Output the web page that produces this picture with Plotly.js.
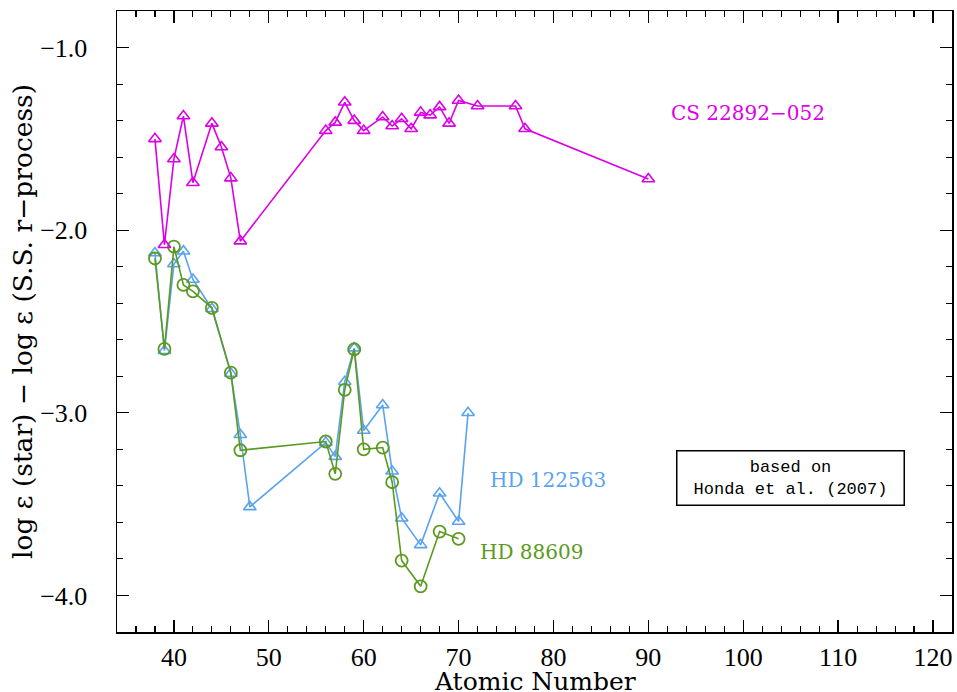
<!DOCTYPE html>
<html>
<head>
<meta charset="utf-8">
<script src="https://cdn.plot.ly/plotly-3.0.1.min.js"></script>
<style>html,body{margin:0;padding:0;background:#fff;}#chart{width:957px;height:692px;}</style>
</head>
<body>
<div id="chart"></div>
<script>
// CS 22892-052
const csZ = [38, 39, 40, 41, 42, 44, 45, 46, 47, 56, 57, 58, 59, 60, 62, 63, 64, 65, 66, 67, 68, 69, 70, 72, 76, 77, 90];
const csVal = [-1.50, -2.08, -1.61, -1.375, -1.74, -1.415, -1.545, -1.715, -2.06, -1.455, -1.41, -1.30, -1.40, -1.455, -1.38, -1.43, -1.39, -1.445, -1.355, -1.37, -1.325, -1.415, -1.29, -1.32, -1.32, -1.445, -1.72];
// HD 122563
const hd122563Z = [38, 39, 40, 41, 42, 44, 46, 47, 48, 56, 57, 58, 59, 60, 62, 63, 64, 66, 68, 70, 71];
const hd122563Val = [-2.125, -2.66, -2.185, -2.115, -2.27, -2.43, -2.785, -3.12, -3.515, -3.163, -3.24, -2.83, -2.646, -3.097, -2.957, -3.32, -3.577, -3.723, -3.44, -3.595, -3.0];
// HD 88609
const hd88609Z = [38, 39, 40, 41, 42, 44, 46, 47, 56, 57, 58, 59, 60, 62, 63, 64, 66, 68, 70];
const hd88609Val = [-2.155, -2.65, -2.09, -2.30, -2.335, -2.425, -2.78, -3.205, -3.157, -3.334, -2.874, -2.652, -3.20, -3.19, -3.38, -3.809, -3.95, -3.65, -3.69];

const xTitle = 'Atomic Number';
const yTitle = 'log \u03b5 (star) \u2212 log \u03b5 (S.S. r\u2212process)';
const labels = ['CS 22892\u2212052', 'HD 122563', 'HD 88609'];
const noteText = 'based on<br>Honda et al. (2007)';

const cMag = '#dc00e6', cBlue = '#5aa3ee', cGreen = '#5b9a20';

const traces = [
  {x: hd122563Z, y: hd122563Val, mode: 'lines+markers', name: labels[1],
   line: {color: cBlue, width: 1.6},
   marker: {symbol: 'triangle-up-open', size: 11, color: cBlue, line: {width: 1.6, color: cBlue}}},
  {x: hd88609Z, y: hd88609Val, mode: 'lines+markers', name: labels[2],
   line: {color: cGreen, width: 1.6},
   marker: {symbol: 'circle-open', size: 12, color: cGreen, line: {width: 1.8, color: cGreen}}},
  {x: csZ, y: csVal, mode: 'lines+markers', name: labels[0],
   line: {color: cMag, width: 1.6},
   marker: {symbol: 'triangle-up-open', size: 11, color: cMag, line: {width: 1.6, color: cMag}}}
];

const tickFont = {family: 'Liberation Serif', size: 26, color: '#000'};

const layout = {
  width: 957, height: 692,
  margin: {l: 117, r: 5, t: 11, b: 60},
  paper_bgcolor: '#fff', plot_bgcolor: '#fff',
  showlegend: false,
  xaxis: {
    range: [34, 122], dtick: 10, tick0: 0,
    showgrid: false, zeroline: false,
    showline: true, linecolor: '#000', linewidth: 1.5, mirror: 'ticks',
    ticks: 'inside', ticklen: 12, tickwidth: 1.3, tickcolor: '#000',
    minor: {dtick: 2, ticks: 'inside', ticklen: 6, tickwidth: 1.1, tickcolor: '#000', showgrid: false},
    tickfont: tickFont, ticklabelstandoff: 1
  },
  yaxis: {
    range: [-4.2, -0.8], dtick: 1, tick0: -1, tickformat: '.1f',
    showgrid: false, zeroline: false,
    showline: true, linecolor: '#000', linewidth: 1.5, mirror: 'ticks',
    ticks: 'inside', ticklen: 12, tickwidth: 1.3, tickcolor: '#000',
    minor: {dtick: 0.2, ticks: 'inside', ticklen: 6, tickwidth: 1.1, tickcolor: '#000', showgrid: false},
    tickfont: tickFont, ticklabelstandoff: 23,
    title: {text: yTitle, font: {family: 'DejaVu Serif', size: 26.5, color: '#000'}, standoff: 0}
  },
  annotations: [
    {x: 0.5, y: -0.0795, xref: 'paper', yref: 'paper', yanchor: 'middle', text: xTitle, showarrow: false,
     font: {family: 'DejaVu Serif', size: 25, color: '#000'}},
    {x: 100.5, y: -1.36, xref: 'x', yref: 'y', text: labels[0], showarrow: false,
     font: {family: 'DejaVu Serif', size: 20, color: cMag}},
    {x: 79.4, y: -3.37, xref: 'x', yref: 'y', text: labels[1], showarrow: false,
     font: {family: 'DejaVu Serif', size: 20, color: cBlue}},
    {x: 77.7, y: -3.76, xref: 'x', yref: 'y', text: labels[2], showarrow: false,
     font: {family: 'DejaVu Serif', size: 20, color: cGreen}},
    {x: 105.0, y: -3.356, xref: 'x', yref: 'y', text: noteText, showarrow: false,
     font: {family: 'Liberation Mono', size: 17, color: '#000'},
     bordercolor: '#000', borderwidth: 1.5, borderpad: 6, bgcolor: '#fff', width: 214, align: 'center'}
  ]
};

Plotly.newPlot('chart', traces, layout, {displayModeBar: false, staticPlot: true});
</script>
</body>
</html>
